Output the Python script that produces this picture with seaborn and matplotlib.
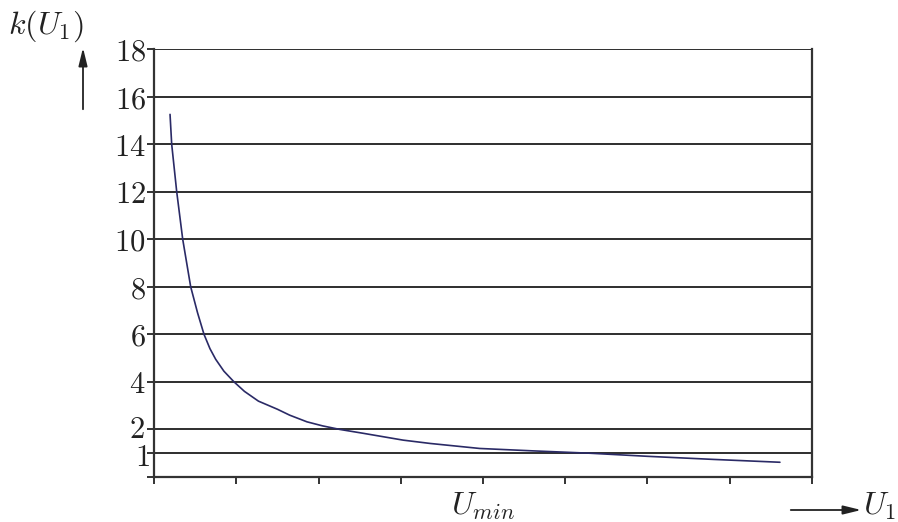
import matplotlib
matplotlib.use("Agg")
import matplotlib.pyplot as plt
import matplotlib.transforms as mtransforms
import seaborn as sns
import pandas as pd

# Operating voltage (relative units) and the factor k(U1)
u1 = [0.195, 0.215, 0.276, 0.349, 0.446, 0.53, 0.608, 0.68, 0.75, 0.85,
      0.973, 1.1, 1.27, 1.5, 1.65, 1.86, 2.05, 2.26, 2.54, 3.03, 3.36,
      3.96, 4.6, 5.3, 6.0, 6.8, 7.61]
k_u1 = [15.25, 14.0, 12.0, 10.0, 8.0, 6.9, 6.0, 5.4, 4.95, 4.45,
        4.0, 3.6, 3.19, 2.85, 2.6, 2.32, 2.15, 2.0, 1.84, 1.55, 1.41,
        1.2, 1.1, 1.0, 0.87, 0.74, 0.62]

y_ticks = [0, 1, 2, 4, 6, 8, 10, 12, 14, 16, 18]
y_labels = ["", "1", "2", "4", "6", "8", "10", "12", "14", "16", "18"]
x_ticks = [0, 1, 2, 3, 4, 5, 6, 7, 8]
x_labels = ["", "", "", "", r"$U_{min}$", "", "", "", ""]

sns.set_theme(style="white")
plt.rcParams["mathtext.fontset"] = "cm"
plt.rcParams["font.family"] = ["DejaVu Sans"]

df = pd.DataFrame({"u": u1, "k": k_u1})

fig = plt.figure(figsize=(8.98, 5.22), dpi=100)
ax = fig.add_axes([154 / 898, 45 / 522, (812 - 154) / 898, (477 - 49) / 522])

sns.lineplot(data=df, x="u", y="k", ax=ax, color="#2a2a66", linewidth=1.2,
             sort=False, estimator=None)

ax.set_xlim(0, 8)
ax.set_ylim(0, 18)

# horizontal grid at every labelled level
for y in y_ticks[1:]:
    ax.axhline(y, color="#2e2e2e", linewidth=1.4, zorder=0)

ax.set_yticks(y_ticks)
ax.set_yticklabels([f"${t}$" if t else "" for t in y_labels])
ax.set_xticks(x_ticks)
ax.set_xticklabels(x_labels)
ax.tick_params(axis="y", direction="out", length=5, width=1.4, color="#333333",
               labelsize=22, pad=1, left=True)
ax.tick_params(axis="x", direction="out", length=5, width=1.4, color="#333333",
               labelsize=23, pad=5, bottom=True)
for lbl in ax.get_yticklabels() + ax.get_xticklabels():
    lbl.set_color("#222222")

for side in ["left", "bottom", "right"]:
    ax.spines[side].set_visible(True)
    ax.spines[side].set_color("#333333")
    ax.spines[side].set_linewidth(1.6)
ax.spines["top"].set_visible(False)
ax.set_xlabel("")
ax.set_ylabel("")

# the two lowest labels sit close together: nudge them apart a little
nudges = {1: (4, -1), 2: (-1, 3)}
for tick in ax.yaxis.get_major_ticks():
    pos = tick.get_loc()
    if pos in nudges:
        dx, dy = nudges[pos]
        off = mtransforms.ScaledTranslation(dx / 100, dy / 100, fig.dpi_scale_trans)
        tick.label1.set_transform(tick.label1.get_transform() + off)

# axis names with arrows
fig.text(46 / 898, 496 / 522, r"$k(U_1)$", fontsize=23, ha="center", va="center",
         color="#222222")
ax.annotate("", xy=(83, 477), xytext=(83, 410), xycoords="figure pixels",
            textcoords="figure pixels",
            arrowprops=dict(arrowstyle="-|>,head_length=0.9,head_width=0.22",
                            color="#222222", lw=1.3))
ax.annotate("", xy=(864, 12), xytext=(788, 12), xycoords="figure pixels",
            textcoords="figure pixels",
            arrowprops=dict(arrowstyle="-|>,head_length=0.9,head_width=0.22",
                            color="#222222", lw=1.3))
fig.text(863 / 898, 16 / 522, r"$U_1$", fontsize=23, ha="left", va="center",
         color="#222222")

fig.savefig("out.png", dpi=100)
